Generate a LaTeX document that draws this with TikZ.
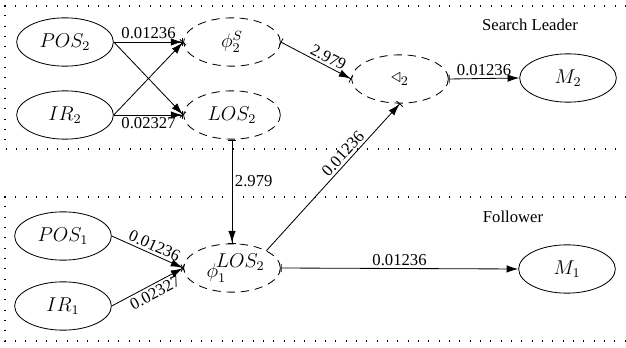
\documentclass[tikz,border=0pt]{standalone}
\usepackage{fontspec}
\setmainfont{Liberation Serif}
\usepackage{amsmath,amssymb}
\usetikzlibrary{arrows.meta,positioning,shapes}

\begin{document}
\begin{tikzpicture}[x=0.6pt,y=-0.6pt,
  obs/.style={draw,ellipse,minimum width=58pt,minimum height=29pt,inner sep=0pt,font=\large,line width=0.5pt},
  lat/.style={obs,dash pattern=on 5pt off 3.5pt},
  edge/.style={line width=0.5pt,-{Latex[length=7pt,width=4.5pt]}},
  ebar/.style={line width=0.5pt,-{Latex[length=7pt,width=4.5pt] Bar[width=5pt]}},
  fromlat/.style={line width=0.5pt,{Bar[width=5pt]}-{Latex[length=7pt,width=4.5pt]}},
  latlat/.style={line width=0.5pt,{Bar[width=5pt]}-{Latex[length=7pt,width=4.5pt] Bar[width=5pt]}},
  lab/.style={inner sep=1.5pt},
  frame/.style={dash pattern=on 0.7pt off 5.5pt,line width=0.7pt}]
\useasboundingbox (0,0) rectangle (626,348);
\draw[frame] (626,6)--(5,6)--(5,149)--(626,149);
\draw[frame] (626,197)--(5,197)--(5,341)--(626,341);
\node[obs] (pos2) at (65,42) {$POS_2$};
\node[obs] (ir2) at (65,115) {$IR_2$};
\node[lat] (phis) at (232,42) {$\phi_2^S$};
\node[lat] (los2) at (232,115) {$LOS_2$};
\node[lat] (tri) at (400,79) {$\triangleleft_2$};
\node[obs] (mtwo) at (568,78) {$M_2$};
\node[obs] (pos1) at (63,236) {$POS_1$};
\node[obs] (ir1) at (63,306) {$IR_1$};
\node[lat] (phione) at (232,268) {};
\node[font=\large] (phitext) at (236,268) {$\phi_1^{\!\raisebox{2pt}{$\textstyle LOS_2$}}$};
\node[obs] (mone) at (567,269) {$M_1$};
\node (lead) at (530,25) {Search Leader};
\node (foll) at (513,217) {Follower};
\draw[ebar] (pos2.east)--node[lab,above]{0.01236} (phis.west);
\draw[ebar] (pos2.east)--(los2.west);
\draw[ebar] (ir2.east)--(phis.west);
\draw[ebar] (ir2.east)--node[lab,below]{0.02327} (los2.west);
\draw[latlat] (phis.east)--node[lab,above,sloped,pos=0.62]{2.979} (tri.west);
\draw[fromlat] (tri.east)--node[lab,above]{0.01236} (mtwo.west);
\draw[latlat] (los2.south)--node[lab,right,pos=0.4]{2.979} (phione.north);
\draw[ebar] (phione.north east)--node[lab,above,sloped,pos=0.62]{0.01236} (tri.south);
\draw[fromlat] (phione.east)--node[lab,above]{0.01236} (mone.west);
\draw[ebar] (pos1.east)--node[lab,above,sloped,pos=0.55]{0.01236} (phione.west);
\draw[ebar] (ir1.east)--node[lab,below,sloped,pos=0.55]{0.02327} (phione.west);
\end{tikzpicture}
\end{document}
